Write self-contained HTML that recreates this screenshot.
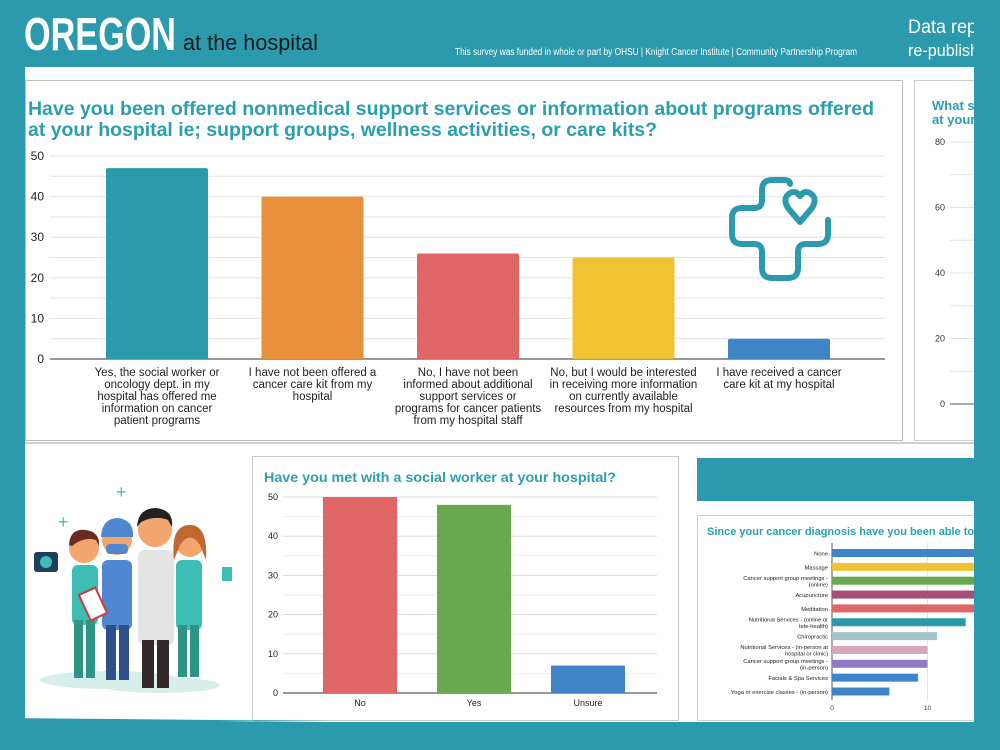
<!DOCTYPE html>
<html><head><meta charset="utf-8">
<style>
html,body{margin:0;padding:0;background:#2a9aac;}
svg{display:block;font-family:"Liberation Sans",Arial,sans-serif;}
</style></head>
<body>
<svg id="root" width="1000" height="750" viewBox="0 0 1000 750" xmlns="http://www.w3.org/2000/svg">
  <rect x="0" y="0" width="1000" height="750" fill="#2a9aac"/>
  <!-- header -->
  <text x="24" y="50" fill="#fff" font-size="46" font-weight="bold" font-family="'Liberation Sans Narrow','Liberation Sans',sans-serif" textLength="152" lengthAdjust="spacingAndGlyphs">OREGON</text>
  <text x="183" y="50" fill="#1a1a1a" font-size="22" font-family="'Liberation Sans Narrow','Liberation Sans',sans-serif" textLength="135" lengthAdjust="spacingAndGlyphs">at the hospital</text>
  <text x="455" y="55" fill="#fff" font-size="10" font-family="'Liberation Sans Narrow','Liberation Sans',sans-serif" textLength="402" lengthAdjust="spacingAndGlyphs">This survey was funded in whole or part by OHSU | Knight Cancer Institute | Community Partnership Program</text>
  <text x="908" y="33" fill="#fff" font-size="19" textLength="75" lengthAdjust="spacingAndGlyphs">Data repr</text>
  <text x="908" y="56" fill="#fff" font-size="17" textLength="80" lengthAdjust="spacingAndGlyphs">re-publishe</text>

  <!-- white panel -->
  <rect x="25" y="67" width="950" height="656" fill="#fff"/>
  <rect x="25.5" y="80.5" width="877" height="360" fill="#fff" stroke="#bdbdbd"/>
  <rect x="914.5" y="80.5" width="80" height="360" fill="#fff" stroke="#cfcfcf"/>
  <line x1="25" y1="443" x2="975" y2="443" stroke="#d0d0d0" stroke-width="2"/>

  <text x="28" y="115" fill="#2a9fb0" font-size="19" font-weight="bold" textLength="846" lengthAdjust="spacingAndGlyphs">Have you been offered nonmedical support services or information about programs offered</text>
  <text x="28" y="136" fill="#2a9fb0" font-size="19" font-weight="bold" textLength="629" lengthAdjust="spacingAndGlyphs">at your hospital ie; support groups, wellness activities, or care kits?</text>

  <g id="main-chart"></g>

  <!-- heart cross icon -->
  <g fill="none" stroke="#2a9aac" stroke-width="6" stroke-linecap="round" stroke-linejoin="round">
    <path d="M 790 184 Q 790 180 784 180 L 772 180 Q 762 180 762 190 L 762 200 Q 762 208 754 208 L 742 208 Q 732 208 732 218 L 732 234 Q 732 244 742 244 L 754 244 Q 762 244 762 252 L 762 268 Q 762 278 772 278 L 788 278 Q 798 278 798 268 L 798 252 Q 798 244 806 244 L 818 244 Q 828 244 828 234 L 828 220"/>
    <path d="M 800 222 L 788 208 Q 782 198 790 193 Q 796 190 800 196 Q 804 190 810 193 Q 818 198 812 208 Z"/>
  </g>

  <!-- side chart (clipped) -->
  <text x="932" y="110" fill="#2a9fb0" font-size="13" font-weight="bold">What s</text>
  <text x="932" y="124" fill="#2a9fb0" font-size="13" font-weight="bold">at your</text>
  <g id="side-chart"></g>

  <!-- illustration -->
  <g>
    <ellipse cx="110" cy="680" rx="70" ry="9" fill="#d7eeea"/>
    <ellipse cx="160" cy="685" rx="60" ry="8" fill="#d7eeea"/>
    <text x="116" y="498" fill="#3cc0b4" font-size="18">+</text>
    <text x="58" y="528" fill="#3cc0b4" font-size="18">+</text>
    <rect x="72" y="565" width="26" height="60" rx="6" fill="#3dbdb4"/>
    <rect x="74" y="620" width="9" height="58" fill="#2d9488"/><rect x="86" y="620" width="9" height="58" fill="#2d9488"/>
    <circle cx="84" cy="548" r="15" fill="#f2a66e"/><path d="M69 545 Q70 528 86 530 Q100 532 99 546 L96 540 Q84 536 72 546Z" fill="#6b2a22"/>
    <rect x="34" y="552" width="24" height="20" rx="3" fill="#1f3e5e"/><circle cx="46" cy="562" r="6" fill="#3cc0b4"/>
    <rect x="102" y="560" width="30" height="70" rx="6" fill="#4f87d0"/>
    <rect x="106" y="625" width="10" height="55" fill="#2d4f8a"/><rect x="119" y="625" width="10" height="55" fill="#2d4f8a"/>
    <circle cx="117" cy="540" r="15" fill="#f2a66e"/><path d="M101 537 Q102 518 118 518 Q134 520 133 537Z" fill="#4f87d0"/>
    <rect x="106" y="544" width="22" height="10" rx="4" fill="#4f87d0"/>
    <rect x="84" y="590" width="18" height="28" fill="#fff" stroke="#d23b3b" stroke-width="2" transform="rotate(-25 93 604)"/>
    <rect x="138" y="550" width="36" height="95" rx="6" fill="#e4e4e4"/>
    <rect x="142" y="640" width="12" height="48" fill="#33282a"/><rect x="157" y="640" width="12" height="48" fill="#33282a"/>
    <circle cx="155" cy="530" r="17" fill="#f2a66e"/><path d="M137 527 Q138 508 156 508 Q174 510 172 527 L168 520 Q155 515 141 522Z" fill="#222"/>
    <rect x="176" y="560" width="26" height="70" rx="6" fill="#3dbdb4"/>
    <rect x="178" y="625" width="9" height="52" fill="#2d9488"/><rect x="190" y="625" width="9" height="52" fill="#2d9488"/>
    <circle cx="190" cy="543" r="14" fill="#f2a66e"/><path d="M174 560 Q170 525 190 525 Q208 525 206 560 L200 545 Q190 530 180 545Z" fill="#c0682f"/>
    <rect x="222" y="567" width="10" height="14" fill="#3cc0b4"/>
  </g>

  <!-- social worker chart -->
  <rect x="252.5" y="456.5" width="426" height="264" fill="#fff" stroke="#c8c8c8"/>
  <text x="264" y="482" fill="#2a9fb0" font-size="14" font-weight="bold" textLength="352" lengthAdjust="spacingAndGlyphs">Have you met with a social worker at your hospital?</text>
  <g id="sw-chart"></g>

  <rect x="697" y="458" width="278" height="43" fill="#2a9aac"/>

  <!-- services chart -->
  <rect x="697.5" y="515.5" width="290" height="205" fill="#fff" stroke="#d0d0d0"/>
  <text x="707" y="535" fill="#2a9fb0" font-size="11" font-weight="bold">Since your cancer diagnosis have you been able to</text>
  <g id="svc-chart"></g>

  <rect x="974" y="0" width="26" height="750" fill="#2a9aac"/>
  <rect x="0" y="722" width="1000" height="28" fill="#2a9aac"/>
  <polygon points="0,718 330,721 0,724" fill="#2a9aac"/>
</svg>
<script>
const NS="http://www.w3.org/2000/svg";
const mainCats=[["Yes, the social worker or","oncology dept. in my","hospital has offered me","information on cancer","patient programs"],["I have not been offered a","cancer care kit from my","hospital"],["No, I have not been","informed about additional","support services or","programs for cancer patients","from my hospital staff"],["No, but I would be interested","in receiving more information","on currently available","resources from my hospital"],["I have received a cancer","care kit at my hospital"]];
const mainValues=[47,40,26,25,5];
const mainColors=["#2a9aac","#e8913a","#e06666","#f1c232","#3d85c6"];
const mainTicks=[0,10,20,30,40,50];
const swCats=["No","Yes","Unsure"];
const swValues=[50,48,7];
const swColors=["#e06666","#6aa84f","#3d85c6"];
const swTicks=[0,10,20,30,40,50];
const svcCats=[["None"],["Massage"],["Cancer support group meetings -","(online)"],["Acupuncture"],["Meditation"],["Nutritional Services - (online or","tele-health)"],["Chiropractic"],["Nutritional Services - (in-person at","hospital or clinic)"],["Cancer support group meetings -","(in-person)"],["Facials & Spa Services"],["Yoga or exercise classes - (in-person)"]];
const svcValues=[20,19,18,17,16,14,11,10,10,9,6];
const svcColors=["#3d85c6","#f1c232","#6aa84f","#a64d79","#e06666","#2a9aac","#a2c4c9","#d5a6bd","#8e7cc3","#3d85c6","#3d85c6"];
const svcTicks=[0,10];
const sideTicks=[0,20,40,60,80];

function el(tag,attrs,parent,text){const e=document.createElementNS(NS,tag);for(const k in attrs)e.setAttribute(k,attrs[k]);if(text!=null)e.textContent=text;parent.appendChild(e);return e;}

(function(){
  const g=document.getElementById('main-chart');
  const x0=50,x1=885,y0=359,yMax=50,h=203;
  const y=v=>y0-v/yMax*h;
  for(let v=0;v<=50;v+=5){el('line',{x1:x0,x2:x1,y1:y(v),y2:y(v),stroke:v===0?'#333':'#e3e3e3','stroke-width':1},g);}
  mainTicks.forEach(t=>{const tx=el('text',{x:44,y:y(t)+4,'text-anchor':'end','font-size':12,fill:'#222'},g,String(t));
    
    });
  const step=155.5,bw=102,first=157;
  mainValues.forEach((v,i)=>{const cx=first+step*i;
    const r=el('rect',{x:cx-bw/2,y:y(v),width:bw,height:y0-y(v),fill:mainColors[i],rx:2},g);
    
    
    mainCats[i].forEach((ln,j)=>{const t=el('text',{x:cx,y:376+j*12,'text-anchor':'middle','font-size':11.5,fill:'#222'},g,ln);
      
      });
  });
})();
(function(){
  const g=document.getElementById('side-chart');
  const y=v=>404-v/80*262;
  for(let v=0;v<=80;v+=10){el('line',{x1:950,x2:975,y1:y(v),y2:y(v),stroke:v===0?'#555':'#e3e3e3'},g);}
  sideTicks.forEach(t=>{const tx=el('text',{x:945,y:y(t)+3,'text-anchor':'end','font-size':9,fill:'#333'},g,String(t));
    
    });
})();
(function(){
  const g=document.getElementById('sw-chart');
  const x0=283,x1=657,y0=693,h=196;
  const y=v=>y0-v/50*h;
  for(let v=0;v<=50;v+=5){el('line',{x1:x0,x2:x1,y1:y(v),y2:y(v),stroke:v===0?'#333':(v%10===0?'#dcdcdc':'#ececec')},g);}
  swTicks.forEach(t=>{const tx=el('text',{x:278,y:y(t)+3,'text-anchor':'end','font-size':9,fill:'#222'},g,String(t));
    
    });
  const step=114,bw=74;
  swValues.forEach((v,i)=>{const cx=360+step*i;
    const r=el('rect',{x:cx-bw/2,y:y(v),width:bw,height:y0-y(v),fill:swColors[i]},g);
    
    
    const t=el('text',{x:cx,y:706,'text-anchor':'middle','font-size':9,fill:'#222'},g,swCats[i]);
    
    });
})();
(function(){
  const g=document.getElementById('svc-chart');
  const x0=832,u=9.55,top=553,step=13.85;
  const x=v=>x0+v*u;
  el('line',{x1:x0,x2:x0,y1:543,y2:700,stroke:'#555'},g);
  el('line',{x1:x(10),x2:x(10),y1:543,y2:700,stroke:'#e3e3e3'},g);
  svcTicks.forEach(t=>{const tx=el('text',{x:x(t),y:710,'text-anchor':'middle','font-size':6.5,fill:'#333'},g,String(t));
    
    });
  svcValues.forEach((v,i)=>{const cy=top+step*i;
    const r=el('rect',{x:x0,y:cy-4,width:x(v)-x0,height:8,fill:svcColors[i]},g);
    
    
    const lines=svcCats[i];
    lines.forEach((ln,j)=>{const t=el('text',{x:828,y:cy+2.5+(j-(lines.length-1)/2)*6.5,'text-anchor':'end','font-size':5.8,fill:'#222'},g,ln);
      
      });
  });
})();
</script>
</body></html>
